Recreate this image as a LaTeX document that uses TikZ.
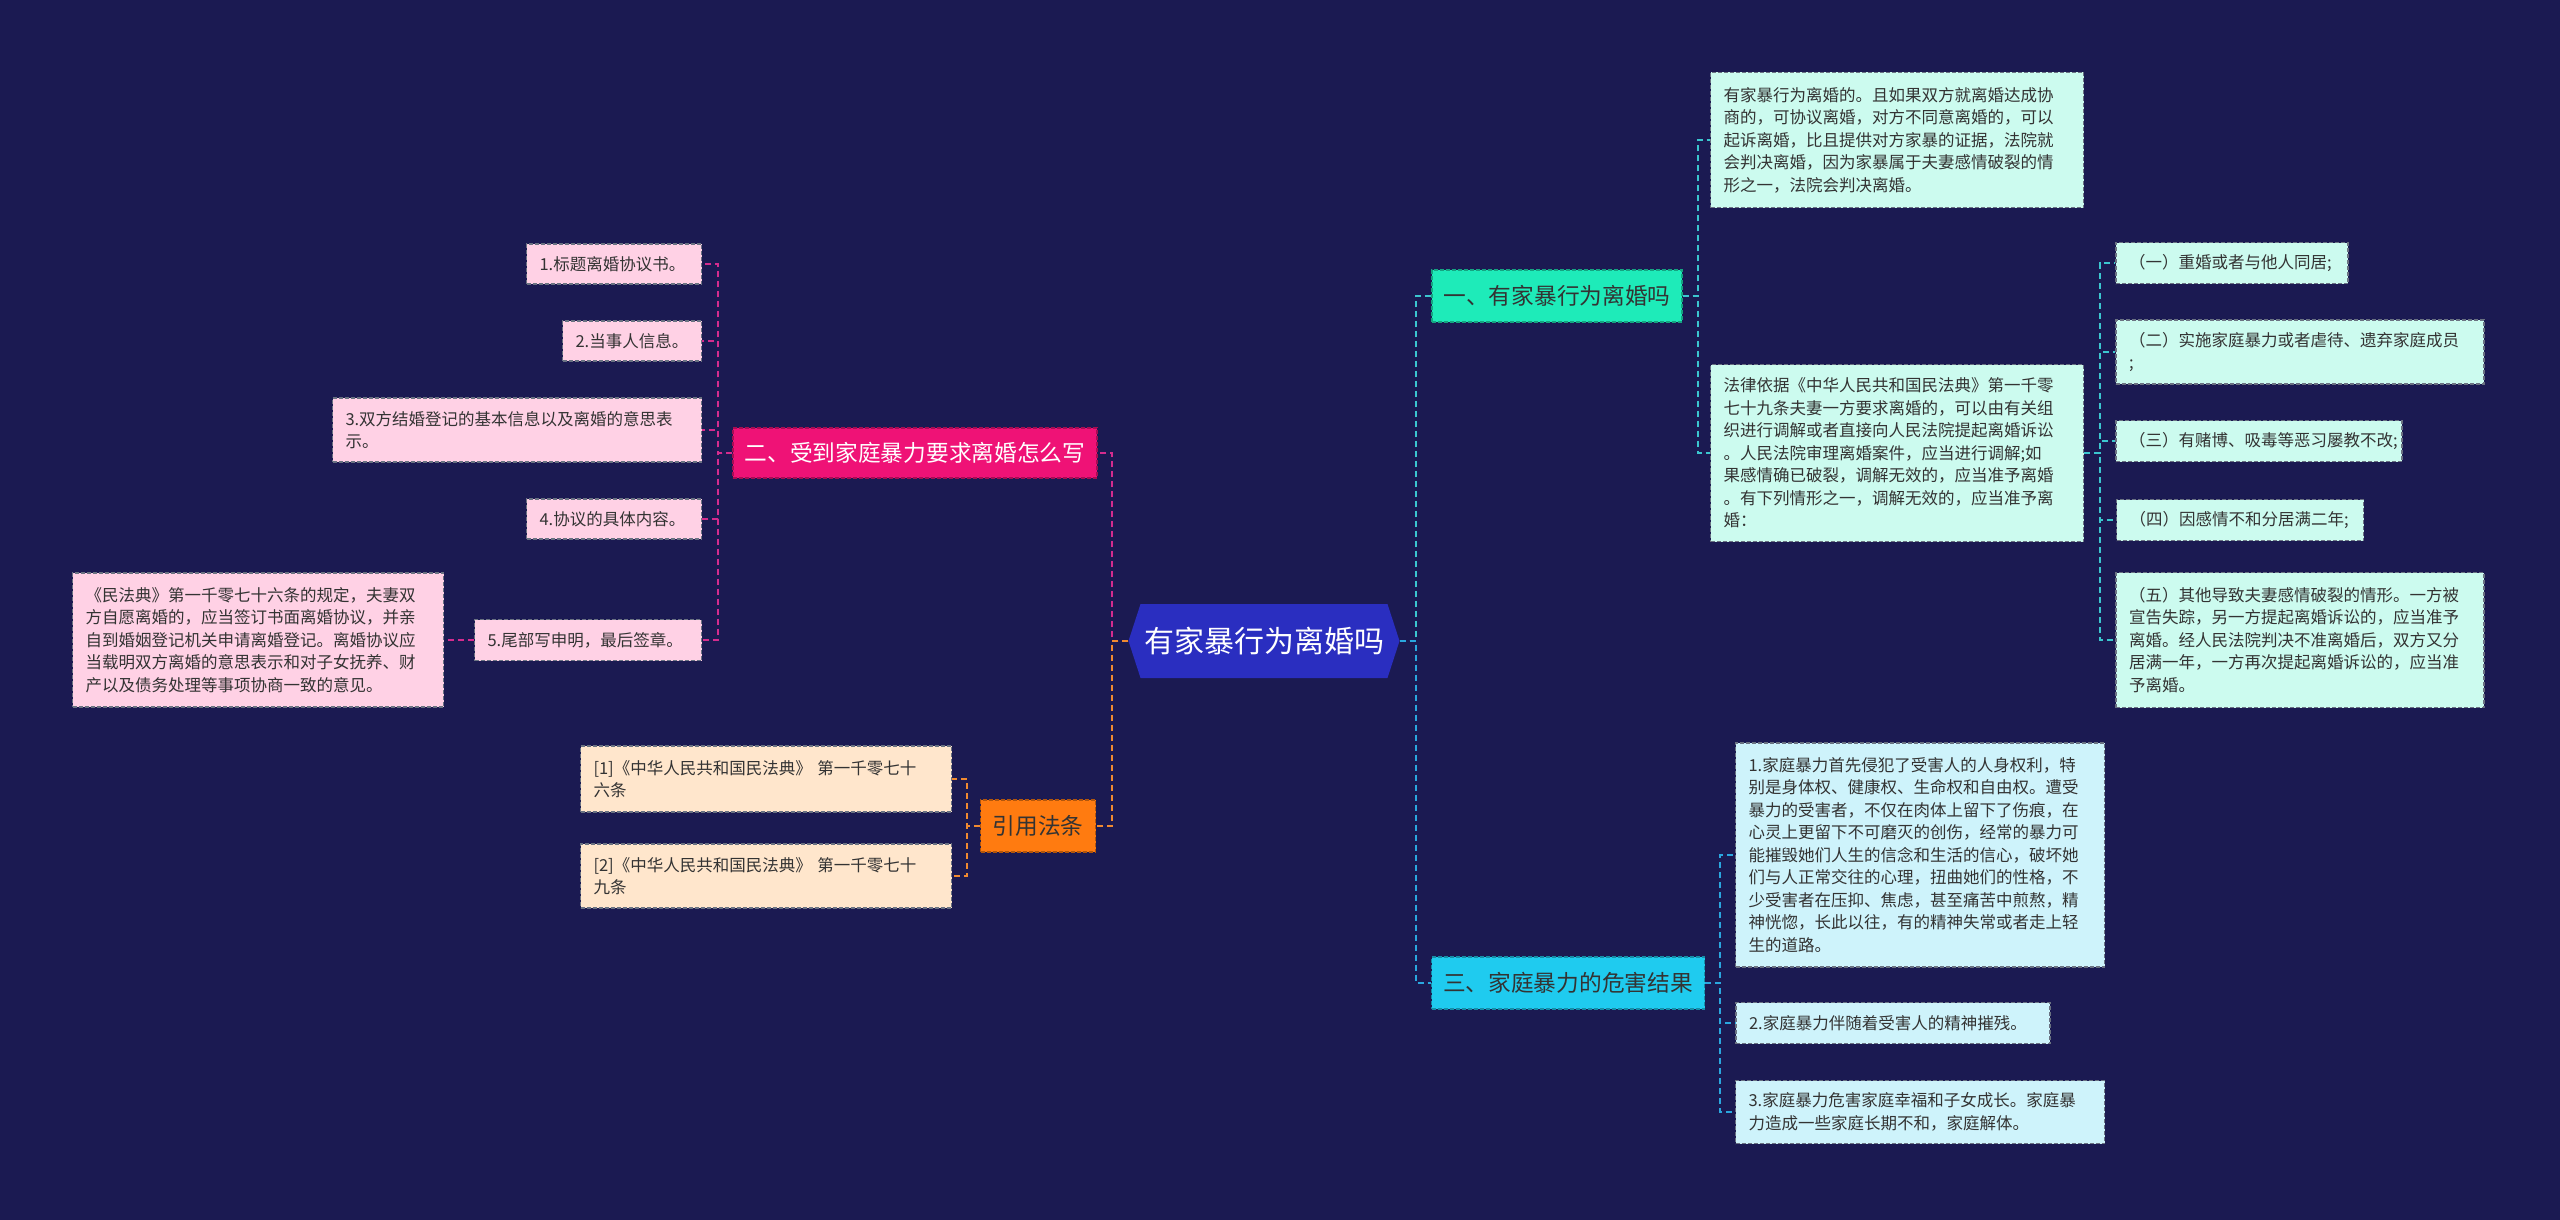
\documentclass[tikz,border=0pt]{standalone}
\usepackage{fontspec}
\setmainfont{Noto Sans CJK SC}
\usetikzlibrary{shapes.symbols}
\definecolor{bg}{HTML}{1B1A52}
\definecolor{rootc}{HTML}{2A2EC0}
\definecolor{bonec}{HTML}{1EEBB9}
\definecolor{bthreec}{HTML}{1FCBEF}
\definecolor{btwoc}{HTML}{EF1276}
\definecolor{bfourc}{HTML}{FF7B10}
\definecolor{cfill}{HTML}{CCFBEF}
\definecolor{dfill}{HTML}{CEF3FB}
\definecolor{efill}{HTML}{FFD1E5}
\definecolor{gfill}{HTML}{FFE6CC}
\definecolor{txt}{HTML}{333333}
\definecolor{lone}{HTML}{3BC6CF}
\definecolor{lthree}{HTML}{2AA7DF}
\definecolor{ltwo}{HTML}{D42C8E}
\definecolor{lfour}{HTML}{F08A30}
\definecolor{bord}{HTML}{6A7282}
\begin{document}
\begin{tikzpicture}[x=1pt,y=-1pt,
  leaf/.style={rectangle, draw=bord, dash pattern=on 4pt off 2pt, line width=1.1pt,
    inner xsep=13pt, inner ysep=0pt, align=left, text=txt,
    font=\fontsize{16.5}{22.5}\selectfont},
  branch/.style={rectangle, fill=#1, draw=#1!70!black, dash pattern=on 4pt off 2pt, line width=1.1pt,
    inner xsep=10pt, inner ysep=0pt, minimum height=52pt, font=\fontsize{22.7}{27}\selectfont},
  conn/.style={draw=#1, line width=1.8pt, dash pattern=on 6pt off 4pt}
]
\useasboundingbox (0,0) rectangle (2560,1220);
\fill[bg] (0,0) rectangle (2560,1220);

% root
\node[signal, signal to=west and east, signal pointer angle=144, fill=rootc,
  minimum width=271pt, minimum height=74pt, inner sep=0pt, text=white,
  font=\fontsize{30}{36}\selectfont] (root) at (1264,641) {有家暴行为离婚吗};

% branches
\node[branch=bonec, text=txt, minimum width=250pt] (b1) at (1557,296) {一、有家暴行为离婚吗};
\node[branch=bthreec, text=txt, minimum width=273pt] (b3) at (1568,983) {三、家庭暴力的危害结果};
\node[branch=btwoc, text=white, minimum width=364pt, minimum height=50pt] (b2) at (915,453) {二、受到家庭暴力要求离婚怎么写};
\node[branch=bfourc, text=txt, minimum width=115pt] (b4) at (1038,826) {引用法条};

% branch 1 children
\node[leaf, fill=cfill, text width=347pt, minimum height=135pt] (c1) at (1897,140) {有家暴行为离婚的。且如果双方就离婚达成协\\商的，可协议离婚，对方不同意离婚的，可以\\起诉离婚，比且提供对方家暴的证据，法院就\\会判决离婚，因为家暴属于夫妻感情破裂的情\\形之一，法院会判决离婚。};
\node[leaf, fill=cfill, text width=347pt, minimum height=177pt] (c2) at (1897,453) {法律依据《中华人民共和国民法典》第一千零\\七十九条夫妻一方要求离婚的，可以由有关组\\织进行调解或者直接向人民法院提起离婚诉讼\\。人民法院审理离婚案件，应当进行调解;如\\果感情确已破裂，调解无效的，应当准予离婚\\。有下列情形之一，调解无效的，应当准予离\\婚：};

\node[leaf, fill=cfill, text width=206pt, minimum height=41pt] (k1) at (2232,263) {（一）重婚或者与他人同居;};
\node[leaf, fill=cfill, text width=342pt, minimum height=64pt] (k2) at (2300,352) {（二）实施家庭暴力或者虐待、遗弃家庭成员\\;};
\node[leaf, fill=cfill, text width=260pt, minimum height=41pt] (k3) at (2259,441) {（三）有赌博、吸毒等恶习屡教不改;};
\node[leaf, fill=cfill, text width=221pt, minimum height=41pt] (k4) at (2240,520) {（四）因感情不和分居满二年;};
\node[leaf, fill=cfill, text width=342pt, minimum height=135pt] (k5) at (2300,640) {（五）其他导致夫妻感情破裂的情形。一方被\\宣告失踪，另一方提起离婚诉讼的，应当准予\\离婚。经人民法院判决不准离婚后，双方又分\\居满一年，一方再次提起离婚诉讼的，应当准\\予离婚。};

% branch 3 children
\node[leaf, fill=dfill, text width=343pt, minimum height=224pt] (d1) at (1920,855) {1.家庭暴力首先侵犯了受害人的人身权利，特\\别是身体权、健康权、生命权和自由权。遭受\\暴力的受害者，不仅在肉体上留下了伤痕，在\\心灵上更留下不可磨灭的创伤，经常的暴力可\\能摧毁她们人生的信念和生活的信心，破坏她\\们与人正常交往的心理，扭曲她们的性格，不\\少受害者在压抑、焦虑，甚至痛苦中煎熬，精\\神恍惚，长此以往，有的精神失常或者走上轻\\生的道路。};
\node[leaf, fill=dfill, text width=288pt, minimum height=41pt] (d2) at (1893,1023) {2.家庭暴力伴随着受害人的精神摧残。};
\node[leaf, fill=dfill, text width=343pt, minimum height=63pt] (d3) at (1920,1112) {3.家庭暴力危害家庭幸福和子女成长。家庭暴\\力造成一些家庭长期不和，家庭解体。};

% branch 2 children
\node[leaf, fill=efill, text width=149pt, minimum height=40pt] (e1) at (614,264) {1.标题离婚协议书。};
\node[leaf, fill=efill, text width=113pt, minimum height=40pt] (e2) at (632,341) {2.当事人信息。};
\node[leaf, fill=efill, text width=343pt, minimum height=64pt] (e3) at (517,430) {3.双方结婚登记的基本信息以及离婚的意思表\\示。};
\node[leaf, fill=efill, text width=149pt, minimum height=40pt] (e4) at (614,519) {4.协议的具体内容。};
\node[leaf, fill=efill, text width=201pt, minimum height=41pt] (e5) at (588,640) {5.尾部写申明，最后签章。};
\node[leaf, fill=efill, text width=345pt, minimum height=134pt] (f1) at (258,640) {《民法典》第一千零七十六条的规定，夫妻双\\方自愿离婚的，应当签订书面离婚协议，并亲\\自到婚姻登记机关申请离婚登记。离婚协议应\\当载明双方离婚的意思表示和对子女抚养、财\\产以及债务处理等事项协商一致的意见。};

% branch 4 children
\node[leaf, fill=gfill, text width=345pt, minimum height=66pt] (g1) at (766,779) {[1]《中华人民共和国民法典》 第一千零七十\\六条};
\node[leaf, fill=gfill, text width=345pt, minimum height=64pt] (g2) at (766,876) {[2]《中华人民共和国民法典》 第一千零七十\\九条};

% junction coordinates
\coordinate (vr) at (1416,641);
\coordinate (vl) at (1112,641);
\coordinate (vone) at (1698,296);
\coordinate (vtwo) at (2100,453);
\coordinate (vthree) at (1720,983);
\coordinate (vb) at (718,453);
\coordinate (vd) at (967,826);

% connectors
\draw[conn=lone] (root.east) -- (root.east -| vr) |- (b1.west);
\draw[conn=lthree] (root.east) -- (root.east -| vr) |- (b3.west);
\draw[conn=ltwo] (root.west) -- (root.west -| vl) |- (b2.east);
\draw[conn=lfour] (root.west) -- (root.west -| vl) |- (b4.east);

\draw[conn=lone] (b1.east) -- (b1.east -| vone) |- (c1.west);
\draw[conn=lone] (b1.east) -- (b1.east -| vone) |- (c2.west);
\foreach \k in {k1,k2,k3,k4,k5}
  \draw[conn=lone] (c2.east) -- (c2.east -| vtwo) |- (\k.west);

\foreach \d in {d1,d2,d3}
  \draw[conn=lthree] (b3.east) -- (b3.east -| vthree) |- (\d.west);

\foreach \e in {e1,e2,e3,e4,e5}
  \draw[conn=ltwo] (b2.west) -- (b2.west -| vb) |- (\e.east);
\draw[conn=ltwo] (e5.west) -- (f1.east);

\foreach \g in {g1,g2}
  \draw[conn=lfour] (b4.west) -- (b4.west -| vd) |- (\g.east);
\end{tikzpicture}
\end{document}
